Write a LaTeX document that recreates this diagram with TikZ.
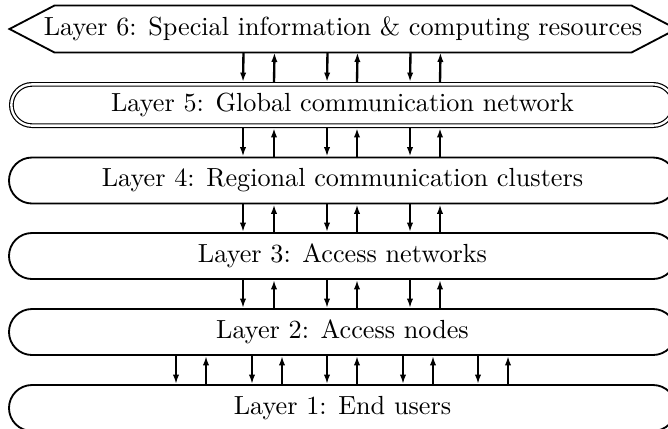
\documentclass[tikz,border=0pt]{standalone}
\usetikzlibrary{shapes.misc,arrows.meta}
\begin{document}
\begin{tikzpicture}[x=0.3817pt,y=-0.3817pt,
  layer/.style={rounded rectangle, draw, line width=0.7pt, minimum width=254.6pt, minimum height=17.56pt, inner sep=0pt},
  dlayer/.style={layer, double, double distance=0.9pt, line width=0.45pt, minimum width=252.8pt, minimum height=15.76pt, outer sep=0.9pt},
  hexlabel/.style={inner sep=0pt, minimum width=254.2pt, minimum height=17.56pt},
  hexline/.style={line width=0.7pt, line join=miter},
  arr/.style={line width=0.9pt, -{Latex[length=3.6pt,width=2.4pt]}}]
\useasboundingbox (0,0) rectangle (668,428);
\node[hexlabel] (L6) at (343,29) {Layer 6: Special information \& computing resources};
\draw[hexline] (L6.west) -- ([xshift=17.2pt]L6.north west) -- ([xshift=-17.2pt]L6.north east) -- (L6.east) -- ([xshift=-17.2pt]L6.south east) -- ([xshift=17.2pt]L6.south west) -- cycle;
\node[dlayer] (L5) at (342.5,105) {Layer 5: Global communication network};
\node[layer] (L4) at (342.5,180.5) {Layer 4: Regional communication clusters};
\node[layer] (L3) at (342.5,256) {Layer 3: Access networks};
\node[layer] (L2) at (342.5,332) {Layer 2: Access nodes};
\node[layer] (L1) at (342.5,408) {Layer 1: End users};
\foreach \a/\b in {L6/L5,L5/L4,L4/L3,L3/L2}{
  \foreach \o in {-99.5,-15.5,67.5}
    \draw[arr] ([xshift=\o*0.3817pt]\a.south) -- ([xshift=\o*0.3817pt]\b.north);
  \foreach \o in {-68.5,14.5,97.5}
    \draw[arr] ([xshift=\o*0.3817pt]\b.north) -- ([xshift=\o*0.3817pt]\a.south);
}
\foreach \o in {-166.5,-90.5,-15.5,60.5,135.5}
  \draw[arr] ([xshift=\o*0.3817pt]L2.south) -- ([xshift=\o*0.3817pt]L1.north);
\foreach \o in {-136.5,-60.5,14.5,90.5,165.5}
  \draw[arr] ([xshift=\o*0.3817pt]L1.north) -- ([xshift=\o*0.3817pt]L2.south);
\end{tikzpicture}
\end{document}
